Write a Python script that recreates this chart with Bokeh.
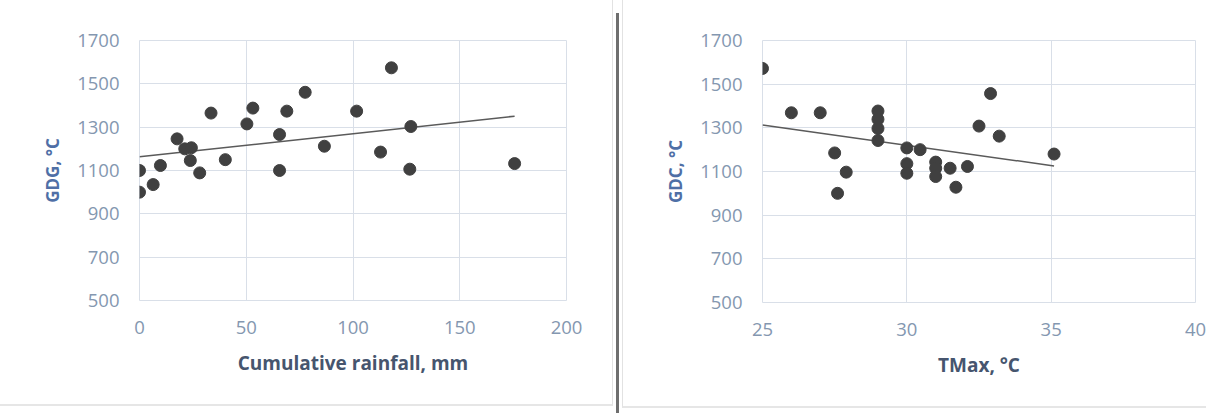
import numpy as np
from bokeh.plotting import figure
from bokeh.models import Range1d, FixedTicker, Div
from bokeh.layouts import row
from bokeh.embed import file_html
from bokeh.resources import INLINE

# ---- data ----
rainfall_mm = [0, 0, 6.4, 9.8, 17.6, 21.2, 24.3, 23.8, 28.2, 33.5, 40.2, 50.3,
               53.1, 65.6, 65.6, 69.0, 77.6, 86.6, 101.7, 112.9, 118.0, 127.1,
               126.6, 175.7]
gdg = [1100, 1000, 1035, 1123, 1246, 1200, 1205, 1146, 1089, 1365, 1150, 1315,
       1388, 1266, 1100, 1374, 1461, 1212, 1374, 1185, 1574, 1303, 1106, 1132]

tmax = [25.0, 26.0, 27.0, 27.5, 27.9, 27.6, 29.0, 29.0, 29.0, 29.0, 30.0, 30.46,
        30.0, 30.0, 31.0, 31.0, 31.0, 31.5, 31.7, 32.1, 32.5, 32.9, 33.2, 35.1]
gdc = [1572, 1369, 1369, 1185, 1097, 1000, 1377, 1339, 1297, 1242, 1208, 1200,
       1136, 1092, 1143, 1115, 1077, 1115, 1028, 1123, 1308, 1457, 1262, 1180]

y_ticks = [500, 700, 900, 1100, 1300, 1500, 1700]
rain_ticks = [0, 50, 100, 150, 200]
tmax_ticks = [25, 30, 35, 40]

FONT = "Open Sans"
TICK_COLOR = "#8497b0"
GRID_COLOR = "#d9dfe8"


def make_fig(x, y, xr, xticks, xlabel, ylabel, width, height, left, right, top,
             bottom, ytitle_color, xtitle_color):
    p = figure(width=width, height=height, x_range=Range1d(*xr),
               y_range=Range1d(500, 1700), output_backend="svg",
               toolbar_location=None, min_border_left=left,
               min_border_right=right, min_border_top=top,
               min_border_bottom=bottom, background_fill_color="white",
               border_fill_color="white")
    p.outline_line_color = GRID_COLOR
    p.xaxis.ticker = FixedTicker(ticks=xticks)
    p.yaxis.ticker = FixedTicker(ticks=y_ticks)
    p.xgrid.ticker = FixedTicker(ticks=xticks)
    p.ygrid.ticker = FixedTicker(ticks=y_ticks)
    for g in (p.xgrid, p.ygrid):
        g.grid_line_color = GRID_COLOR
        g.grid_line_width = 1
    for ax in (p.xaxis, p.yaxis):
        ax.axis_line_color = None
        ax.major_tick_line_color = None
        ax.minor_tick_line_color = None
        ax.major_tick_out = 0
        ax.major_tick_in = 0
        ax.major_label_text_font = FONT
        ax.major_label_text_font_size = "18.5px"
        ax.major_label_text_color = TICK_COLOR
        ax.axis_label_text_font = FONT
        ax.axis_label_text_font_style = "bold"
    p.xaxis.axis_label_text_font_size = "19px"
    p.yaxis.axis_label_text_font_size = "17px"
    p.xaxis.axis_label = xlabel
    p.yaxis.axis_label = ylabel
    p.xaxis.axis_label_text_color = xtitle_color
    p.yaxis.axis_label_text_color = ytitle_color
    p.xaxis.major_label_standoff = 20
    p.xaxis.axis_label_standoff = 13
    p.yaxis.major_label_standoff = 20
    p.yaxis.axis_label_standoff = 10

    coef = np.polyfit(np.array(x, dtype=float), np.array(y, dtype=float), 1)
    xs = np.array([min(x), max(x)])
    p.line(xs, np.polyval(coef, xs), line_color="#5a5a5a", line_width=1.5)
    p.scatter(x, y, size=12, fill_color="#404040", line_color="#404040")
    return p


p1 = make_fig(rainfall_mm, gdg, (0, 200), rain_ticks, "Cumulative rainfall, mm",
              "GDG, °C", 613, 406, 139, 47, 40, 106, "#4f6fa6", "#46556e")
p1.styles = {"border-right": "1px solid #e2e2e2",
             "border-bottom": "2px solid #e6e6e6"}

sep = Div(text="", width=3, height=400, margin=(13, 3, 0, 3),
          styles={"background-color": "#6e6e6e"})

p2 = make_fig(tmax, gdc, (25, 40), tmax_ticks, "TMax, °C", "GDC, °C",
              584, 408, 139, 12, 40, 105, "#4f6fa6", "#46556e")
p2.styles = {"border-left": "1px solid #e2e2e2",
             "border-bottom": "2px solid #e6e6e6"}

layout = row(p1, sep, p2, spacing=0)

open("out.html", "w").write(file_html(layout, INLINE))
